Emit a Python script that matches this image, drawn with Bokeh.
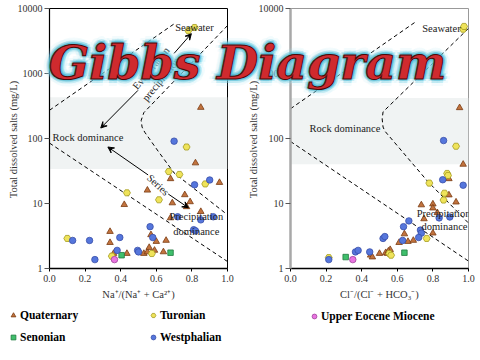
import math
from bokeh.plotting import figure
from bokeh.layouts import row, column
from bokeh.models import (Range1d, FixedTicker, PrintfTickFormatter, Label, Arrow, VeeHead,
                          Legend, LegendItem, BoxAnnotation)
from bokeh.embed import file_html
from bokeh.resources import INLINE

# ---------------- data ----------------
x_ticks = [0.0, 0.2, 0.4, 0.6, 0.8, 1.0]
y_ticks = [1, 10, 100, 1000, 10000]

# left panel: Na+/(Na+ + Ca2+)
na_quat_x = [0.85, 0.82, 0.68, 0.955, 0.55, 0.76, 0.42, 0.69, 0.79, 0.77, 0.68, 0.85,
             0.34, 0.34, 0.36, 0.435, 0.53, 0.55, 0.56, 0.57, 0.60, 0.59, 0.655, 0.64]
na_quat_y = [300, 42, 24, 21, 16, 13.6, 9.6, 10.2, 10.6, 8.9, 6.0, 7.5,
             3.7, 2.5, 1.7, 1.7, 1.7, 1.8, 2.1, 3.3, 2.6, 1.9, 2.7, 1.8]
na_tur_x = [0.78, 0.815, 0.77, 0.67, 0.73, 0.875, 0.435, 0.615, 0.10, 0.35, 0.575]
na_tur_y = [4570, 5100, 74, 31, 28, 20, 14.6, 11.4, 2.9, 1.55, 1.7]
na_sen_x = [0.405, 0.68]
na_sen_y = [1.6, 1.75]
na_wes_x = [0.70, 0.90, 0.815, 0.72, 0.85, 0.92, 0.81, 0.82, 0.13, 0.225, 0.255,
            0.395, 0.38, 0.495, 0.50, 0.565, 0.58]
na_wes_y = [91, 23, 19.4, 6.25, 5.6, 6.25, 3.95, 3.8, 2.7, 2.7, 1.37,
            3.0, 1.9, 1.9, 1.8, 4.4, 3.0]
na_uem_x = [0.365]
na_uem_y = [1.37]

# right panel: Cl-/(Cl- + HCO3-)
cl_quat_x = [0.95, 0.97, 0.89, 0.89, 0.93, 0.735, 0.80, 0.80, 0.75, 0.825, 0.64, 0.80,
             0.66, 0.69, 0.61, 0.45, 0.46, 0.50, 0.535, 0.545, 0.56, 0.55]
cl_quat_y = [297, 40, 24, 13.5, 10.5, 9.5, 9.8, 8.5, 5.8, 7.2, 3.4, 3.5,
             2.6, 2.7, 2.5, 1.6, 1.5, 1.7, 1.75, 1.7, 1.95, 1.85]
cl_tur_x = [0.97, 0.975, 0.93, 0.88, 0.885, 0.78, 0.865, 0.86, 0.765, 0.555, 0.565, 0.215]
cl_tur_y = [4800, 5300, 76, 29, 27, 20.6, 14.4, 11.3, 2.9, 1.7, 1.6, 1.47]
cl_sen_x = [0.64, 0.31]
cl_sen_y = [1.75, 1.5]
cl_wes_x = [0.86, 0.855, 0.97, 0.835, 0.895, 0.665, 0.635, 0.73, 0.735, 0.72, 0.63,
            0.52, 0.53, 0.365, 0.38, 0.445, 0.215]
cl_wes_y = [93, 23.2, 19.1, 6.0, 6.2, 5.4, 4.4, 3.9, 3.5, 3.0, 2.7,
            2.9, 3.1, 1.8, 1.9, 1.8, 1.37]
cl_uem_x = [0.35]
cl_uem_y = [1.37]

# Gibbs boundary lines
na_bnd_upper_x = [0.0, 0.70]
na_bnd_upper_y = [272, 5800]
na_bnd_lower_x = [0.0, 1.0]
na_bnd_lower_y = [85, 1.28]
na_bnd_right_x = [1.0, 0.53, 0.515, 0.52, 0.535, 0.61, 0.70, 1.0]
na_bnd_right_y = [5460, 250, 190, 150, 125, 64, 29.5, 6.7]

cl_bnd_upper_x = [0.0, 0.70]
cl_bnd_upper_y = [287, 6150]
cl_bnd_lower_x = [0.0, 1.0]
cl_bnd_lower_y = [90, 1.3]
cl_bnd_right_x = [1.0, 0.52, 0.515, 0.52, 0.53, 0.77, 1.0]
cl_bnd_right_y = [4950, 257, 200, 150, 130, 22, 5.0]

series_names = ["Quaternary", "Turonian", "Senonian", "Westphalian", "Upper Eocene Miocene"]
title_text = "Gibbs Diagram"
y_title = "Total dissolved salts (mg/L)"

# ---------------- styles ----------------
SERIF = "Liberation Serif"
STY = {
    "Quaternary": dict(marker="triangle", size=6.5, fill_color="#c2733e", line_color="#7a3b12"),
    "Turonian": dict(marker="hex", size=7, fill_color="#efe35a", line_color="#a59c1e"),
    "Senonian": dict(marker="square", size=5.5, fill_color="#3fbf6c", line_color="#1f7a3f"),
    "Westphalian": dict(marker="circle", size=6.5, fill_color="#5576dc", line_color="#3a4fa8"),
    "Upper Eocene Miocene": dict(marker="circle", size=6.5, fill_color="#e874e0", line_color="#a0409a"),
}
H = 358


def make_fig(width, bl, br, bt, bb, xlabel, axis_col, axis_w, outline_col):
    p = figure(width=width, height=H, x_range=Range1d(0, 1), y_range=Range1d(1, 10000),
               y_axis_type="log", output_backend="svg", toolbar_location=None, title=None,
               min_border_left=bl, min_border_right=br, min_border_top=bt, min_border_bottom=bb)
    p.grid.visible = False
    p.background_fill_color = "white"
    p.border_fill_color = "white"
    p.outline_line_color = outline_col
    p.outline_line_width = 1
    xa = p.xaxis[0]
    xa.ticker = FixedTicker(ticks=x_ticks, minor_ticks=[])
    xa.formatter = PrintfTickFormatter(format="%.1f")
    xa.major_tick_out = 3
    xa.major_tick_in = 0
    xa.minor_tick_line_color = None
    xa.major_label_standoff = 3
    xa.major_label_text_font = SERIF
    xa.major_label_text_font_size = "10px"
    xa.major_label_text_color = "#333333"
    xa.axis_line_color = "black"
    xa.axis_line_width = 1.6
    xa.axis_label = xlabel
    xa.axis_label_text_font = SERIF
    xa.axis_label_text_font_size = "10.5px"
    xa.axis_label_text_font_style = "normal"
    xa.axis_label_text_color = "#333333"
    xa.axis_label_standoff = 4
    ya = p.yaxis[0]
    ya.ticker = FixedTicker(ticks=y_ticks, minor_ticks=[])
    ya.formatter = PrintfTickFormatter(format="%d")
    ya.major_tick_out = 5
    ya.major_tick_in = 0
    ya.minor_tick_line_color = None
    ya.major_label_standoff = 2
    ya.major_label_text_font = SERIF
    ya.major_label_text_font_size = "10px"
    ya.major_label_text_color = "#333333"
    ya.axis_line_color = axis_col
    ya.axis_line_width = axis_w
    ya.major_tick_line_color = "#555555"
    return p


def add_common(p, xs, ys, bnds, band):
    p.add_layout(BoxAnnotation(bottom=band[0], top=band[1], fill_color="#f0f3f3",
                               fill_alpha=1, line_color=None, level="underlay"))
    for bx, by in bnds:
        p.line(bx, by, line_color="black", line_width=1, line_dash="4 3")
    for name, x, y in zip(series_names, xs, ys):
        p.scatter(x, y, line_width=0.8, **STY[name])


def txt(p, x, y, s, align="left", angle=0.0):
    p.add_layout(Label(x=x, y=y, text=s, text_align=align, text_baseline="middle",
                       angle=angle, text_font=SERIF, text_font_size="10.5px",
                       text_color="#222222"))


def arrow(p, x0, y0, x1, y1):
    p.add_layout(Arrow(end=VeeHead(size=6, line_width=1, line_color="black"),
                       x_start=x0, y_start=y0, x_end=x1, y_end=y1,
                       line_width=1, line_color="black"))


# ---------------- left panel ----------------
W1 = 248
p1 = make_fig(W1, 49, 21, 8, H - 269, "Na\u207a/(Na\u207a + Ca\u00b2\u207a)", "black", 1.2, "black")
add_common(p1, [na_quat_x, na_tur_x, na_sen_x, na_wes_x, na_uem_x],
           [na_quat_y, na_tur_y, na_sen_y, na_wes_y, na_uem_y],
           [(na_bnd_upper_x, na_bnd_upper_y), (na_bnd_lower_x, na_bnd_lower_y),
            (na_bnd_right_x, na_bnd_right_y)], (34, 430))
txt(p1, 0.706, 5080, "Seawater")
txt(p1, 0.017, 105, "Rock dominance")
txt(p1, 0.825, 6.25, "Precipitation", "center")
txt(p1, 0.825, 3.7, "dominance", "center")
txt(p1, 0.61, 19.3, "Series", "center", -0.76)
txt(p1, 0.57, 1200, "Evaporation", "center", 0.88)
txt(p1, 0.627, 815, "precipitation", "center", 0.88)
arrow(p1, 0.70, 2040, 0.797, 4100)
arrow(p1, 0.497, 550, 0.288, 145)
arrow(p1, 0.554, 27.5, 0.328, 74)
arrow(p1, 0.667, 14, 0.78, 8.6)

# ---------------- right panel ----------------
W2 = 480 - W1
p2 = make_fig(W2, 42, 12, 6, H - 268, "Cl\u207b/(Cl\u207b + HCO\u2083\u207b)", "#a8a8a8", 2.5, "#999999")
add_common(p2, [cl_quat_x, cl_tur_x, cl_sen_x, cl_wes_x, cl_uem_x],
           [cl_quat_y, cl_tur_y, cl_sen_y, cl_wes_y, cl_uem_y],
           [(cl_bnd_upper_x, cl_bnd_upper_y), (cl_bnd_lower_x, cl_bnd_lower_y),
            (cl_bnd_right_x, cl_bnd_right_y)], (40, 420))
txt(p2, 0.74, 4940, "Seawater")
txt(p2, 0.107, 142, "Rock dominance")
txt(p2, 0.86, 6.9, "Precipitation", "center")
txt(p2, 0.865, 4.4, "dominance", "center")

# ---------------- transparent overlay: title, y titles, legend ----------------
po = figure(width=480, height=H, x_range=Range1d(2, 3), y_range=Range1d(2, 3),
            output_backend="svg", toolbar_location=None, title=None, min_border=0,
            x_axis_location=None, y_axis_location=None)
po.grid.visible = False
po.outline_line_color = None
po.background_fill_alpha = 0
po.border_fill_alpha = 0
po.margin = (-H, 0, 0, 0)

# legend proxies: the real series, which lie outside this overlay's ranges
all_x = [na_quat_x, na_tur_x, na_sen_x, na_wes_x, na_uem_x]
all_y = [na_quat_y, na_tur_y, na_sen_y, na_wes_y, na_uem_y]
lr = {n: po.scatter(x, y, line_width=0.8, **STY[n]) for n, x, y in zip(series_names, all_x, all_y)}
leg_kw = dict(orientation="vertical", glyph_width=12, glyph_height=12, label_height=16,
              label_standoff=1, spacing=6, padding=0, margin=0, border_line_color=None,
              background_fill_alpha=0, label_text_font=SERIF, label_text_font_style="bold",
              label_text_font_size="11.5px", label_text_color="black")
po.add_layout(Legend(items=[LegendItem(label=n, renderers=[lr[n]]) for n in ["Quaternary", "Senonian"]],
                     location=(7, 13), **leg_kw))
po.add_layout(Legend(items=[LegendItem(label=n, renderers=[lr[n]]) for n in ["Turonian", "Westphalian"]],
                     location=(147, 13), **leg_kw))
po.add_layout(Legend(items=[LegendItem(label="Upper Eocene Miocene", renderers=[lr["Upper Eocene Miocene"]])],
                     location=(308, 34), **leg_kw))

for yx in (13, 253):
    po.add_layout(Label(x=yx, y=H - 139, x_units="screen", y_units="screen", text=y_title,
                        angle=math.pi / 2, text_align="center", text_baseline="middle",
                        text_font=SERIF, text_font_size="10.5px", text_color="#333333"))

tkw = dict(x_units="screen", y_units="screen", text=title_text, text_font="DejaVu Serif",
           text_font_style="bold italic", text_font_size="47.5px",
           text_baseline="middle", text_align="center")
TX, TY = 247, H - 61
for r, a, col in [(7, 0.12, "#a6e6f4"), (4, 0.28, "#5cc6de"), (2, 0.3, "#3fb0cc")]:
    for k in range(8):
        ang = k * math.pi / 4
        po.add_layout(Label(x=TX + r * math.cos(ang), y=TY + r * math.sin(ang),
                            text_color=col, text_alpha=a, **tkw))
po.add_layout(Label(x=TX, y=TY, text_color="#cf2a2e", text_outline_color="#4a0808", **tkw))

layout = column(row(p1, p2), po)
open("out.html", "w").write(file_html(layout, INLINE))
